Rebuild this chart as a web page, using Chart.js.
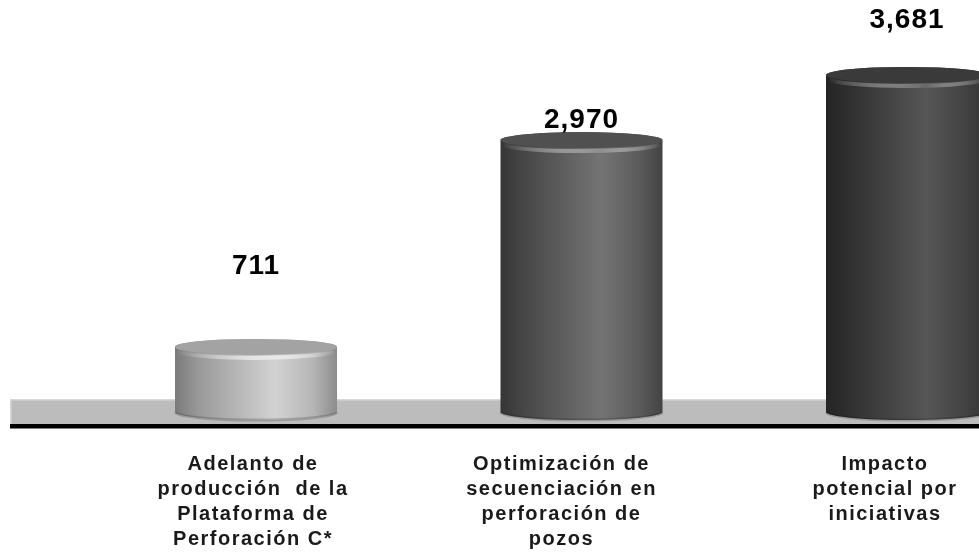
<!DOCTYPE html>
<html lang="es">
<head>
<meta charset="UTF-8">
<script src="https://cdn.jsdelivr.net/npm/chart.js@4"></script>
<style>
  html, body { margin: 0; padding: 0; background: #fff; }
  #wrap { width: 979px; height: 554px; }
</style>
</head>
<body>
<div id="wrap"><canvas id="impactoChart"></canvas></div>
<script>
// categories (multi-line) and values
const categories = [
  ['Adelanto de', 'producción  de la', 'Plataforma de', 'Perforación C*'],
  ['Optimización de', 'secuenciación en', 'perforación de', 'pozos'],
  ['Impacto', 'potencial por', 'iniciativas']
];
const values = [711, 2970, 3681];

// look of each cylinder: body gradient (left -> right), top face and rim highlight
const stopPos = [0, 0.15, 0.62, 0.85, 1];
const cylinderShades = [
  { stops: ['#7a7a7a', '#9a9a9a', '#d2d2d2', '#b6b6b6', '#8c8c8c'], top: '#a3a3a3', rim: '#e8e8e8' },
  { stops: ['#363636', '#474747', '#747474', '#5c5c5c', '#434343'], top: '#505050', rim: '#8e8e8e' },
  { stops: ['#242424', '#303030', '#565656', '#434343', '#333333'], top: '#3a3a3a', rim: '#686868' }
];
const labelLift = [81, 20, 55];   // px from cylinder top to its number
const tickNudge = [-3, -20, -22]; // px shift of each category caption
const slotPx = 325.5;
const axisHeight = 142;

const fontFamily = '"Liberation Sans", Arial, sans-serif';

const cylinders = {
  id: 'cylinders',
  beforeDraw(chart) {
    chart.ctx.letterSpacing = '1.5px';
  },
  beforeDatasetsDraw(chart) {
    const { ctx, chartArea } = chart;
    const base = chart.scales.y.getPixelForValue(0);
    const left = chartArea.left, w = chartArea.right - chartArea.left;
    ctx.save();
    ctx.fillStyle = '#bcbcbc';
    ctx.fillRect(left, base - 13, w, 25);
    ctx.fillStyle = '#d8d8d8';
    ctx.fillRect(left, base - 13, w, 1.5);
    ctx.fillRect(left, base - 13, 1.5, 25);
    ctx.fillStyle = '#000';
    ctx.fillRect(left, base + 12, w, 4.5);
    ctx.restore();
  },
  afterDatasetsDraw(chart) {
    const { ctx } = chart;
    const meta = chart.getDatasetMeta(0);
    meta.data.forEach((bar, i) => {
      const { x, y, base, width } = bar.getProps(['x', 'y', 'base', 'width'], true);
      const hw = width / 2, ry = 8, s = cylinderShades[i];
      ctx.save();

      // body
      const g = ctx.createLinearGradient(x - hw, 0, x + hw, 0);
      s.stops.forEach((c, k) => g.addColorStop(stopPos[k], c));
      ctx.beginPath();
      ctx.moveTo(x - hw, y);
      ctx.lineTo(x - hw, base);
      ctx.ellipse(x, base, hw, ry, 0, Math.PI, 0, true);
      ctx.lineTo(x + hw, y);
      ctx.ellipse(x, y, hw, ry, 0, 0, Math.PI, true);
      ctx.closePath();
      ctx.fillStyle = g;
      ctx.fill();

      // slight shade along the foot
      ctx.beginPath();
      ctx.ellipse(x, base, hw, ry, 0, 0.05, Math.PI - 0.05);
      ctx.strokeStyle = 'rgba(0,0,0,0.18)';
      ctx.lineWidth = 3;
      ctx.stroke();

      // top face
      ctx.beginPath();
      ctx.ellipse(x, y, hw, ry, 0, 0, Math.PI * 2);
      ctx.fillStyle = s.top;
      ctx.fill();

      // rounded front edge of the lid
      const rg = ctx.createLinearGradient(x - hw, 0, x + hw, 0);
      rg.addColorStop(0, 'rgba(255,255,255,0)');
      rg.addColorStop(0.62, s.rim);
      rg.addColorStop(1, 'rgba(255,255,255,0)');
      ctx.beginPath();
      ctx.ellipse(x, y + 3, hw - 2, ry, 0, 0.2, Math.PI - 0.2);
      ctx.strokeStyle = rg;
      ctx.lineWidth = 4;
      ctx.stroke();

      // value
      ctx.letterSpacing = '1px';
      ctx.font = 'bold 28px ' + fontFamily;
      ctx.fillStyle = '#000';
      ctx.textAlign = 'center';
      ctx.textBaseline = 'middle';
      ctx.fillText(values[i].toLocaleString('en-US'), x, y - labelLift[i]);
      ctx.restore();
    });
  }
};

new Chart(document.getElementById('impactoChart'), {
  type: 'bar',
  data: {
    datasets: [{
      data: values.map((v, i) => ({ x: i, y: v })),
      backgroundColor: 'rgba(0,0,0,0)',
      barThickness: 162
    }]
  },
  options: {
    responsive: true,
    maintainAspectRatio: false,
    animation: false,
    layout: { padding: { left: 10, right: 0, top: 0, bottom: 0 } },
    plugins: { legend: { display: false }, tooltip: { enabled: false } },
    scales: {
      x: {
        type: 'linear',
        offset: false,
        min: -0.7558,
        max: 2.2212,
        grid: { display: false, drawTicks: false },
        border: { display: false },
        afterBuildTicks: scale => {
          scale.ticks = categories.map((c, i) => ({ value: i + tickNudge[i] / slotPx }));
        },
        afterFit: scale => {
          scale.height = axisHeight;
          scale.paddingLeft = 0;
          scale.paddingRight = 0;
        },
        ticks: {
          padding: 40,
          autoSkip: false,
          maxRotation: 0,
          color: '#1a1a1a',
          font: { family: fontFamily, size: 20, weight: 'bold', lineHeight: '25px' },
          callback: (v, i) => categories[i]
        }
      },
      y: { display: false, min: 0, max: 4500 }
    }
  },
  plugins: [cylinders]
});
</script>
</body>
</html>
